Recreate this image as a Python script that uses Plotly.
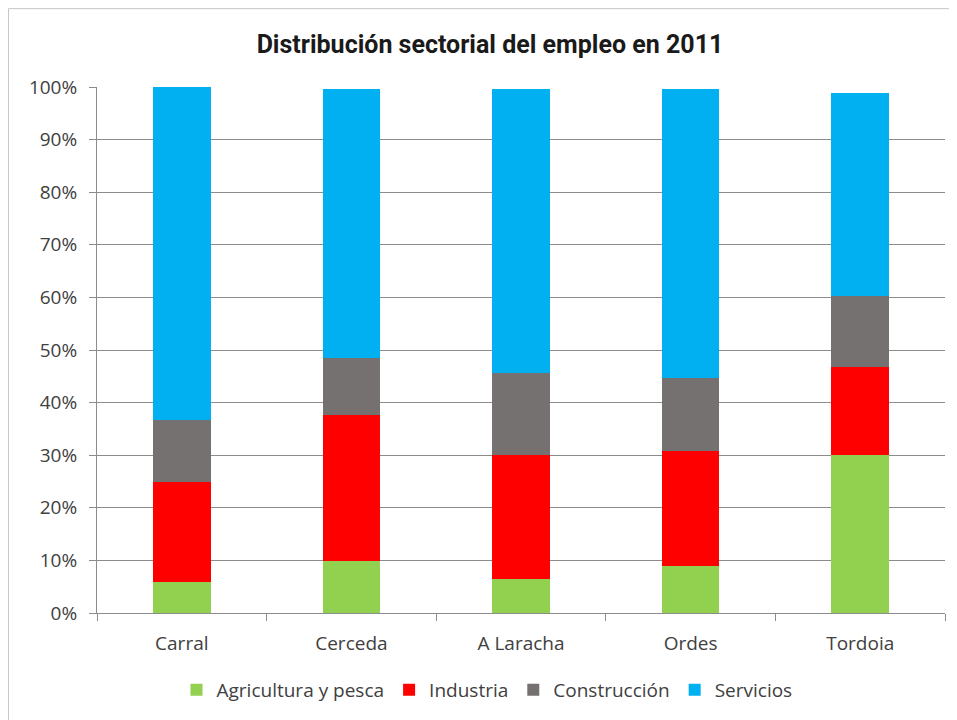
import plotly.graph_objects as go

categories = ["Carral", "Cerceda", "A Laracha", "Ordes", "Tordoia"]
agricultura = [5.9, 9.8, 6.5, 9.0, 30.0]
industria = [19.1, 27.8, 23.5, 21.8, 16.8]
construccion = [11.6, 10.9, 15.7, 13.8, 13.4]
servicios = [63.4, 51.2, 53.9, 55.0, 38.7]
y_ticks = [0, 10, 20, 30, 40, 50, 60, 70, 80, 90, 100]
y_tick_labels = [f"{v}%" for v in y_ticks]

series = [
    ("Agricultura y pesca", agricultura, "#92D050"),
    ("Industria", industria, "#FF0000"),
    ("Construcción", construccion, "#767171"),
    ("Servicios", servicios, "#00B0F0"),
]

fig = go.Figure()
for name, vals, color in series:
    fig.add_trace(go.Bar(
        x=categories, y=vals, name=name,
        marker=dict(color=color, line=dict(width=0)),
        width=0.34,
    ))

W, H = 949, 712
L, T, R, B = 89, 79, 12, 106
PW, PH = W - L - R, H - T - B

fig.update_layout(
    barmode="stack",
    width=W, height=H,
    paper_bgcolor="white", plot_bgcolor="white",
    margin=dict(l=L, r=R, t=T, b=B),
    title=dict(text="<b>Distribución sectorial del empleo en 2011</b>",
               x=(490 - 8) / W, xanchor="center", y=1 - (44 - 8) / H, yanchor="middle",
               font=dict(family="Roboto, Open Sans", size=25, color="#1a1a1a")),
    font=dict(family="Open Sans, DejaVu Sans", size=18, color="#404040"),
    legend=dict(orientation="h", x=0.5 - 34 / PW, xanchor="center",
                y=-(690 - 8 - T - PH) / PH, yanchor="middle",
                font=dict(size=19, color="#404040"), traceorder="normal",
                itemwidth=30),
    showlegend=True,
)
fig.update_yaxes(range=[0, 100], tickvals=y_ticks, ticktext=y_tick_labels,
                 showgrid=True, gridcolor="#8c8c8c", gridwidth=1,
                 showline=True, linecolor="#8c8c8c", linewidth=1,
                 ticks="outside", ticklen=7, tickcolor="#8c8c8c",
                 ticklabelstandoff=8,
                 zeroline=False, tickfont=dict(size=19, color="#404040"))
fig.update_xaxes(showline=True, linecolor="#8c8c8c", linewidth=1,
                 ticks="outside", tickson="boundaries", ticklen=7, tickcolor="#8c8c8c",
                 ticklabelstandoff=13,
                 tickfont=dict(size=19, color="#404040"))

fig.add_shape(type="rect", xref="paper", yref="paper",
              x0=(8.5 - 97) / PW, x1=(980 - 97) / PW,
              y0=-(740 - 614) / PH, y1=1 + (87 - 8.5) / PH,
              line=dict(color="#c8c8c8", width=1), layer="below")

fig.write_html("out.html")
